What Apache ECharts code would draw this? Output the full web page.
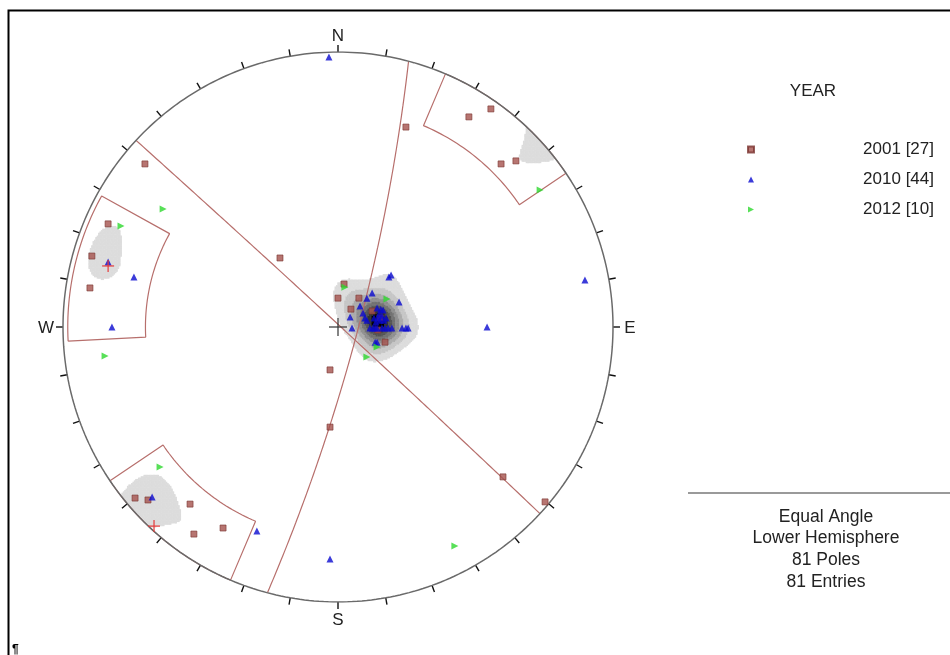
<!DOCTYPE html>
<html>
<head>
<meta charset="utf-8">
<script src="https://cdn.jsdelivr.net/npm/echarts@6/dist/echarts.min.js"></script>
<style>
  html, body { margin: 0; background: #fff; }
  #chart { width: 950px; height: 655px; }
</style>
</head>
<body>
<div id="chart"></div>
<script>
// pole positions on the net, in percent of the net radius (x = east, y = north)
const poles2001 = [
  [24.7, 72.7], [-70.2, 59.3], [-21.1, 25.1], [-2.9, -15.6], [-2.9, -36.4],
  [60.0, -54.5], [75.3, -63.6], [47.6, 76.4], [55.6, 79.3], [59.3, 59.3],
  [64.7, 60.4], [-83.6, 37.5], [-89.5, 25.8], [-90.2, 14.2], [-73.8, -62.2],
  [-69.1, -62.9], [-53.8, -64.4], [-52.4, -75.3], [-41.8, -73.1],
  [2.2, 15.6], [0.0, 10.5], [7.6, 10.5], [4.7, 6.5], [12.4, 5.8],
  [14.5, -1.1], [17.1, -5.5], [15.3, 3.3]
];
const poles2010 = [
  [-3.3, 98.2], [89.8, 17.1], [54.2, 0.0], [-82.2, 0.0], [-83.6, 23.6],
  [-74.2, 18.2], [-67.6, -61.8], [-29.5, -74.2], [-2.9, -84.4],
  [18.5, 18.2], [19.3, 18.9], [12.4, 12.4], [22.2, 9.1], [10.5, 10.5],
  [8.0, 7.6], [14.2, 6.9], [15.6, 6.5], [16.4, 6.2], [9.1, 5.1],
  [9.8, 3.3], [10.5, 2.5], [4.4, 3.6], [5.1, -0.4],
  [11.6, -0.4], [12.7, -0.4], [13.5, -0.4], [14.2, -0.4], [16.0, -0.4],
  [17.1, -0.4], [18.2, -0.4], [19.6, -0.4], [23.3, -0.4], [24.7, -0.4], [25.5, -0.4],
  [13.5, -5.5], [14.2, -5.5],
  [14.5, 3.3], [15.3, 2.5], [16.0, 4.0], [13.8, 1.8], [16.7, 2.5],
  [14.9, 4.7], [13.1, 3.3], [17.5, 3.3]
];
const poles2012 = [
  [-63.6, 42.9], [-78.9, 36.7], [-84.7, -10.5], [73.5, 49.8], [-64.7, -50.9],
  [42.5, -79.6], [2.5, 14.5], [17.8, 10.2], [14.2, -7.3], [10.5, -10.9]
];
const meanPoles = [[-83.6, 22.2], [-66.9, -72.4]];
// set windows: trend from, trend to, plunge from, plunge to (degrees)
const setWindows = [[267, 299, 1, 20], [203, 236, 0, 15], [23, 56, 0, 13]];
const tickTrends = [0, 10, 20, 30, 40, 50, 60, 70, 80, 90, 100, 110, 120, 130, 140, 150, 160, 170,
  180, 190, 200, 210, 220, 230, 240, 250, 260, 270, 280, 290, 300, 310, 320, 330, 340, 350];
const compassTrends = [0, 90, 180, 270];
const compassNames = ['N', 'E', 'S', 'W'];
const legendNames = ['2001 [27]', '2010 [44]', '2012 [10]'];
const infoLines = ['Equal Angle', 'Lower Hemisphere', '81 Poles', '81 Entries'];
const densityLevels = [2.55, 5, 7.5, 10, 12.5, 15, 17.5, 19.5];
const densityShades = ['#dcdcdc', '#c6c6c6', '#ababab', '#8f8f8f', '#727272', '#545454', '#333333', '#000000'];

const FONT = '"Liberation Sans", Arial, sans-serif';
const D2R = Math.PI / 180;
const STEP = 0.5; // density grid step, percent of radius

// equal angle (stereographic) lower hemisphere
function toVec(x, y) {
  const q = x * x + y * y;
  return [2 * x / (1 + q), 2 * y / (1 + q), (1 - q) / (1 + q)];
}
function project(v) {
  let e = v[0], n = v[1], d = v[2];
  if (d < 0) { e = -e; n = -n; d = -d; }
  return [100 * e / (1 + d), 100 * n / (1 + d)];
}
function trendPlunge(t, p) {
  const r = 100 * Math.tan((90 - p) / 2 * D2R);
  return [r * Math.sin(t * D2R), r * Math.cos(t * D2R)];
}

// primitive circle
const primitive = [];
for (let a = 0; a <= 360; a += 1) primitive.push(trendPlunge(a, 0));

// set window outlines
const windowLines = setWindows.map(w => {
  const pts = [];
  for (let t = w[0]; t <= w[1]; t += 1) pts.push(trendPlunge(t, w[2]));
  for (let t = w[1]; t >= w[0]; t -= 1) pts.push(trendPlunge(t, w[3]));
  pts.push(trendPlunge(w[0], w[2]));
  return pts;
});

// mean planes (great circles of the mean poles)
const planeLines = meanPoles.map(mp => {
  const p = toVec(mp[0] / 100, mp[1] / 100);
  const h = Math.hypot(p[0], p[1]);
  const s = [p[1] / h, -p[0] / h, 0];
  let d = [p[1] * s[2] - p[2] * s[1], p[2] * s[0] - p[0] * s[2], p[0] * s[1] - p[1] * s[0]];
  if (d[2] < 0) d = d.map(c => -c);
  const pts = [];
  for (let i = 0; i <= 180; i++) {
    const t = i * D2R;
    pts.push(project([Math.cos(t) * s[0] + Math.sin(t) * d[0],
                      Math.cos(t) * s[1] + Math.sin(t) * d[1],
                      Math.cos(t) * s[2] + Math.sin(t) * d[2]]));
  }
  return pts;
});

// Fisher style density of all poles
const poleVecs = poles2001.concat(poles2010, poles2012).map(p => toVec(p[0] / 100, p[1] / 100));
const K = 120;
const cells = [];
for (let i = -100; i <= 100; i += STEP) {
  for (let j = -100; j <= 100; j += STEP) {
    const x = i / 100, y = j / 100;
    if (x * x + y * y > 1) continue;
    const v = toVec(x, y);
    let s = 0;
    for (const p of poleVecs) {
      const c = Math.abs(v[0] * p[0] + v[1] * p[1] + v[2] * p[2]);
      s += Math.exp(K * (c - 1));
    }
    let lev = -1;
    for (let L = 0; L < densityLevels.length; L++) if (s >= densityLevels[L]) lev = L;
    if (lev >= 0) cells.push([i, j, lev]);
  }
}

const chart = echarts.init(document.getElementById('chart'));

const lineStyleRed = { color: '#b76f6c', width: 1.2 };

const series = [
  {
    type: 'custom', name: 'density', data: cells, z: 1, silent: true,
    renderItem: (params, api) => {
      const p = api.coord([api.value(0) - STEP / 2, api.value(1) + STEP / 2]);
      const sz = api.size([STEP, STEP]);
      return { type: 'rect', shape: { x: p[0], y: p[1], width: sz[0] + 0.5, height: sz[1] + 0.5 },
               style: { fill: densityShades[api.value(2)] } };
    }
  }
];
windowLines.forEach(w => series.push({
  type: 'line', data: w, showSymbol: false, z: 2, silent: true, lineStyle: lineStyleRed
}));
planeLines.forEach(w => series.push({
  type: 'line', data: w, showSymbol: false, z: 2, silent: true, lineStyle: lineStyleRed
}));
series.push({
  type: 'line', data: primitive, showSymbol: false, z: 3, silent: true,
  lineStyle: { color: '#6a6a6a', width: 1.5 }
});
series.push({
  type: 'custom', data: tickTrends, z: 3, silent: true,
  renderItem: (params, api) => {
    const a = api.value(0) * D2R;
    const p = api.coord([100 * Math.sin(a), 100 * Math.cos(a)]);
    return { type: 'line', shape: { x1: p[0], y1: p[1], x2: p[0] + 7 * Math.sin(a), y2: p[1] - 7 * Math.cos(a) },
             style: { stroke: '#111', lineWidth: 1.4 } };
  }
});
series.push({
  type: 'custom', data: compassTrends, z: 3, silent: true,
  renderItem: (params, api) => {
    const a = api.value(0) * D2R;
    const p = api.coord([100 * Math.sin(a), 100 * Math.cos(a)]);
    return { type: 'text', x: p[0] + 17 * Math.sin(a), y: p[1] - 17 * Math.cos(a) + 1.5,
             style: { text: compassNames[params.dataIndex], font: '17px ' + FONT, fill: '#222',
                      align: 'center', verticalAlign: 'middle' } };
  }
});
series.push({
  type: 'scatter', name: legendNames[0], data: poles2001, z: 5, symbol: 'rect', symbolSize: 6,
  itemStyle: { color: '#a5524e', borderColor: '#7b3531', borderWidth: 0.8 }
});
series.push({
  type: 'scatter', name: legendNames[1], data: poles2010, z: 5, symbol: 'triangle', symbolSize: 7,
  itemStyle: { color: '#0a0ad0' }
});
series.push({
  type: 'scatter', name: legendNames[2], data: poles2012, z: 5, symbol: 'triangle', symbolSize: 7,
  symbolRotate: -90, itemStyle: { color: '#2ed82e' }
});
series.push({
  type: 'custom', data: meanPoles, z: 6, silent: true,
  renderItem: (params, api) => {
    const p = api.coord([api.value(0), api.value(1)]);
    return { type: 'group', children: [
      { type: 'line', shape: { x1: p[0] - 6, y1: p[1], x2: p[0] + 6, y2: p[1] }, style: { stroke: '#e53a3a', lineWidth: 1.2 } },
      { type: 'line', shape: { x1: p[0], y1: p[1] - 6, x2: p[0], y2: p[1] + 6 }, style: { stroke: '#e53a3a', lineWidth: 1.2 } }
    ] };
  }
});
series.push({
  type: 'custom', data: [[0, 0]], z: 6, silent: true,
  renderItem: (params, api) => {
    const p = api.coord([api.value(0), api.value(1)]);
    return { type: 'group', children: [
      { type: 'line', shape: { x1: p[0] - 9, y1: p[1], x2: p[0] + 9, y2: p[1] }, style: { stroke: '#333', lineWidth: 1.2 } },
      { type: 'line', shape: { x1: p[0], y1: p[1] - 9, x2: p[0], y2: p[1] + 9 }, style: { stroke: '#333', lineWidth: 1.2 } }
    ] };
  }
});

chart.setOption({
  animation: false,
  backgroundColor: '#fff',
  grid: { left: 63, top: 52, width: 550, height: 550 },
  xAxis: { type: 'value', min: -100, max: 100, show: false },
  yAxis: { type: 'value', min: -100, max: 100, show: false },
  title: [
    { text: 'YEAR', left: 808, top: 78, textAlign: 'center',
      textStyle: { fontFamily: FONT, fontSize: 17, fontWeight: 'normal', color: '#222' } },
    { text: infoLines.join('\n'), left: 821, top: 501, textAlign: 'center',
      textStyle: { fontFamily: FONT, fontSize: 17.5, fontWeight: 'normal', color: '#222', lineHeight: 21.7 } }
  ],
  legend: {
    orient: 'vertical', left: 742, top: 136, itemGap: 13, itemWidth: 6, itemHeight: 6,
    data: [
      { name: legendNames[0], icon: 'rect' },
      { name: legendNames[1], icon: 'triangle' },
      { name: legendNames[2], icon: 'path://M0,0L10,5L0,10Z' }
    ],
    formatter: name => '{t|' + name + '}',
    textStyle: { rich: { t: { width: 175, align: 'right', fontFamily: FONT, fontSize: 17, color: '#222' } } }
  },
  graphic: [
    { type: 'polyline', shape: { points: [[8.5, 655], [8.5, 10.5], [950, 10.5]] },
      style: { stroke: '#000', lineWidth: 2, fill: null } },
    { type: 'line', shape: { x1: 688, y1: 493, x2: 950, y2: 493 }, style: { stroke: '#9a9a9a', lineWidth: 2 } },
    { type: 'text', x: 12, y: 644, style: { text: '¶', font: 'bold 12px ' + FONT, fill: '#000' } }
  ],
  series: series
});
</script>
</body>
</html>
